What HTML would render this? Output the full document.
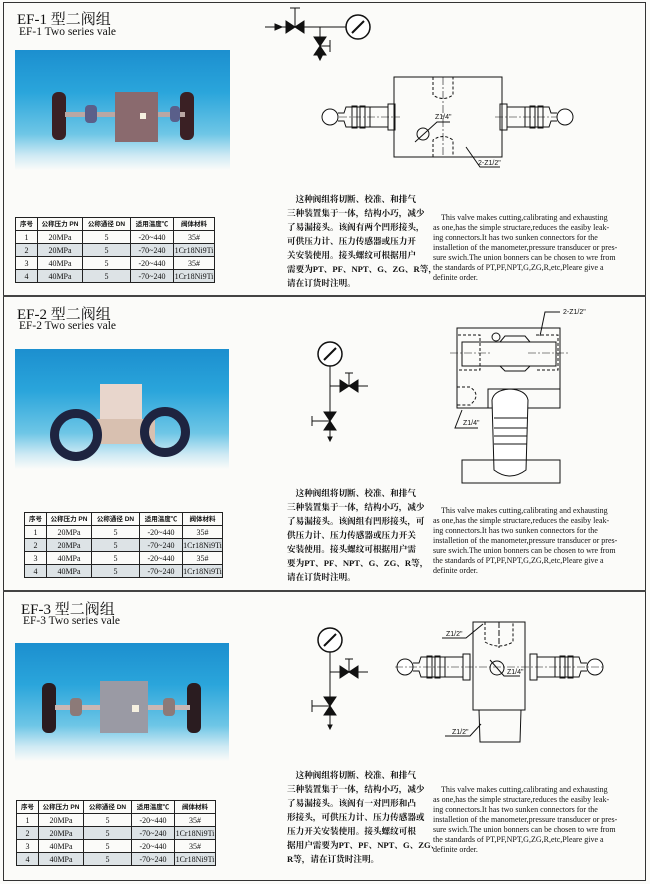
<!DOCTYPE html>
<html><head><meta charset="utf-8">
<style>
*{margin:0;padding:0;box-sizing:border-box}
body{width:650px;height:884px;background:#fbfbf9;position:relative;overflow:hidden;font-family:"Liberation Serif","Noto Serif CJK SC",serif;color:#111}
.a{position:absolute;white-space:nowrap}
.frame{position:absolute;left:3px;top:2px;width:643px;height:879px;border:1.5px solid #333}
.hr{position:absolute;left:3px;width:643px;height:2px;background:#444}
.t1{font-size:15px;font-family:"Liberation Serif","Noto Serif CJK SC",serif}
.t2{font-size:11.5px}
.photo{position:absolute;background:linear-gradient(180deg,#1c8fcf 0%,#2aa5db 35%,#6ec6e6 70%,#cfeaf4 88%,#fbfbf9 100%)}
table{position:absolute;border-collapse:collapse;font-size:8px;font-family:"Liberation Serif","Noto Sans CJK SC",serif}
td{border:1px solid #222;height:13px;text-align:center;padding:0;line-height:11px}
tr.h td{font-size:6.5px;font-weight:bold;font-family:"Liberation Sans","Noto Sans CJK SC",sans-serif}
tr.s td{background:#dde3e6}
.cn{position:absolute;font-family:"Liberation Serif","Noto Serif CJK SC",serif;font-weight:bold;font-size:8.6px;line-height:14px;white-space:nowrap;letter-spacing:0}
.en{position:absolute;font-family:"Liberation Serif",serif;font-size:8px;line-height:10px;width:174px;white-space:nowrap}
svg{position:absolute;left:0;top:0}
</style></head><body>
<div class="frame"></div>
<div class="hr" style="top:295px"></div>
<div class="hr" style="top:590px"></div>

<!-- EF-1 -->
<div class="a t1" style="left:17px;top:8px">EF-1 型二阀组</div>
<div class="a t2" style="left:19px;top:26px">EF-1 Two series vale</div>
<div class="photo" style="left:15px;top:50px;width:215px;height:120px">
  <div class="a" style="left:37px;top:42px;width:14px;height:48px;background:#3a2024;border-radius:6px"></div>
  <div class="a" style="left:165px;top:42px;width:14px;height:48px;background:#3a2024;border-radius:6px"></div>
  <div class="a" style="left:50px;top:62px;width:120px;height:5px;background:#b9a7a4"></div>
  <div class="a" style="left:70px;top:55px;width:12px;height:18px;background:#5a5f8a;border-radius:4px"></div>
  <div class="a" style="left:155px;top:56px;width:10px;height:16px;background:#5a5f8a;border-radius:4px"></div>
  <div class="a" style="left:100px;top:42px;width:43px;height:50px;background:#8a6a6e"></div>
  <div class="a" style="left:125px;top:63px;width:6px;height:6px;background:#f5f0e0"></div>
</div>
<table style="left:15px;top:217px;width:200px">
<tr class="h"><td style="width:22px">序号</td><td style="width:45px">公称压力 PN</td><td style="width:48px">公称通径 DN</td><td style="width:43px">适用温度℃</td><td>阀体材料</td></tr>
<tr><td>1</td><td>20MPa</td><td>5</td><td>-20~440</td><td>35#</td></tr>
<tr class="s"><td>2</td><td>20MPa</td><td>5</td><td>-70~240</td><td>1Cr18Ni9Ti</td></tr>
<tr><td>3</td><td>40MPa</td><td>5</td><td>-20~440</td><td>35#</td></tr>
<tr class="s"><td>4</td><td>40MPa</td><td>5</td><td>-70~240</td><td>1Cr18Ni9Ti</td></tr>
</table>
<div class="cn" style="left:287px;top:192px">　这种阀组将切断、校准、和排气<br>三种装置集于一体，结构小巧，减少<br>了易漏接头。该阀有两个凹形接头，<br>可供压力计、压力传感器或压力开<br>关安装使用。接头螺纹可根据用户<br>需要为PT、PF、NPT、G、ZG、R等，<br>请在订货时注明。</div>
<div class="en" style="left:433px;top:213px">　This valve makes cutting,calibrating and exhausting<br>as one,has the simple structare,reduces the easiby leak-<br>ing connectors.It has two sunken connectors for the<br>installetion of the manometer,pressure transducer or pres-<br>sure swich.The union bonners can be chosen to wre from<br>the standards of PT,PF,NPT,G,ZG,R,etc,Pleare give a<br>definite order.</div>

<!-- EF-2 -->
<div class="a t1" style="left:17px;top:303px">EF-2 型二阀组</div>
<div class="a t2" style="left:19px;top:320px">EF-2 Two series vale</div>
<div class="photo" style="left:15px;top:349px;width:214px;height:120px">
  <div class="a" style="left:85px;top:35px;width:42px;height:42px;background:#e8d6cc"></div>
  <div class="a" style="left:80px;top:70px;width:60px;height:25px;background:#d8c0b0"></div>
  <div class="a" style="left:35px;top:60px;width:52px;height:52px;border:9px solid #1e2440;border-radius:50%"></div>
  <div class="a" style="left:125px;top:58px;width:50px;height:50px;border:9px solid #1e2440;border-radius:50%"></div>
</div>
<table style="left:24px;top:512px;width:199px">
<tr class="h"><td style="width:22px">序号</td><td style="width:45px">公称压力 PN</td><td style="width:48px">公称通径 DN</td><td style="width:43px">适用温度℃</td><td>阀体材料</td></tr>
<tr><td>1</td><td>20MPa</td><td>5</td><td>-20~440</td><td>35#</td></tr>
<tr class="s"><td>2</td><td>20MPa</td><td>5</td><td>-70~240</td><td>1Cr18Ni9Ti</td></tr>
<tr><td>3</td><td>40MPa</td><td>5</td><td>-20~440</td><td>35#</td></tr>
<tr class="s"><td>4</td><td>40MPa</td><td>5</td><td>-70~240</td><td>1Cr18Ni9Ti</td></tr>
</table>
<div class="cn" style="left:287px;top:486px">　这种阀组将切断、校准、和排气<br>三种装置集于一体，结构小巧，减少<br>了易漏接头。该阀组有凹形接头，可<br>供压力计、压力传感器或压力开关<br>安装使用。接头螺纹可根据用户需<br>要为PT、PF、NPT、G、ZG、R等，<br>请在订货时注明。</div>
<div class="en" style="left:433px;top:506px">　This valve makes cutting,calibrating and exhausting<br>as one,has the simple structare,reduces the easiby leak-<br>ing connectors.It has two sunken connectors for the<br>installetion of the manometer,pressure transducer or pres-<br>sure swich.The union bonners can be chosen to wre from<br>the standards of PT,PF,NPT,G,ZG,R,etc,Pleare give a<br>definite order.</div>

<!-- EF-3 -->
<div class="a t1" style="left:21px;top:598px">EF-3 型二阀组</div>
<div class="a t2" style="left:23px;top:615px">EF-3 Two series vale</div>
<div class="photo" style="left:15px;top:643px;width:214px;height:118px">
  <div class="a" style="left:27px;top:40px;width:14px;height:50px;background:#2a1c20;border-radius:6px"></div>
  <div class="a" style="left:172px;top:40px;width:14px;height:50px;background:#2a1c20;border-radius:6px"></div>
  <div class="a" style="left:40px;top:62px;width:135px;height:5px;background:#c9b7b4"></div>
  <div class="a" style="left:55px;top:55px;width:12px;height:18px;background:#8c7a78;border-radius:4px"></div>
  <div class="a" style="left:148px;top:55px;width:12px;height:18px;background:#8c7a78;border-radius:4px"></div>
  <div class="a" style="left:85px;top:38px;width:48px;height:52px;background:#9a9aa4"></div>
  <div class="a" style="left:117px;top:62px;width:7px;height:7px;background:#f5f0e0"></div>
</div>
<table style="left:16px;top:800px;width:200px">
<tr class="h"><td style="width:22px">序号</td><td style="width:45px">公称压力 PN</td><td style="width:48px">公称通径 DN</td><td style="width:43px">适用温度℃</td><td>阀体材料</td></tr>
<tr><td>1</td><td>20MPa</td><td>5</td><td>-20~440</td><td>35#</td></tr>
<tr class="s"><td>2</td><td>20MPa</td><td>5</td><td>-70~240</td><td>1Cr18Ni9Ti</td></tr>
<tr><td>3</td><td>40MPa</td><td>5</td><td>-20~440</td><td>35#</td></tr>
<tr class="s"><td>4</td><td>40MPa</td><td>5</td><td>-70~240</td><td>1Cr18Ni9Ti</td></tr>
</table>
<div class="cn" style="left:287px;top:768px">　这种阀组将切断、校准、和排气<br>三种装置集于一体，结构小巧，减少<br>了易漏接头。该阀有一对凹形和凸<br>形接头，可供压力计、压力传感器或<br>压力开关安装使用。接头螺纹可根<br>据用户需要为PT、PF、NPT、G、ZG、<br>R等，请在订货时注明。</div>
<div class="en" style="left:433px;top:785px">　This valve makes cutting,calibrating and exhausting<br>as one,has the simple structare,reduces the easiby leak-<br>ing connectors.It has two sunken connectors for the<br>installetion of the manometer,pressure transducer or pres-<br>sure swich.The union bonners can be chosen to wre from<br>the standards of PT,PF,NPT,G,ZG,R,etc,Pleare give a<br>definite order.</div>

<svg width="650" height="884" viewBox="0 0 650 884" fill="none" stroke="#111" stroke-width="1">
<defs>
<g id="bv"><path d="M-9,-6 L0,0 L-9,6 Z M9,-6 L0,0 L9,6 Z" fill="#111"/></g>
<g id="vv"><path d="M-6,-9 L0,0 L6,-9 Z M-6,9 L0,0 L6,9 Z" fill="#111"/></g>
<g id="gauge"><circle r="12" fill="#fff" stroke-width="1.5"/><path d="M-6,6 L6,-6" stroke-width="2"/></g>
<g id="handle">
 <circle cx="0" cy="0" r="8" fill="#fff"/>
 <path d="M8,-4 L14,-4 L16,-10 L40,-10 L40,10 L16,10 L14,4 L8,4"/>
 <rect x="22" y="-11" width="5" height="22"/><rect x="30" y="-11" width="5" height="22"/>
 <rect x="40" y="-10" width="18" height="20"/><rect x="58" y="-13" width="7" height="26"/>
</g>
</defs>
<!-- EF-1 symbol -->
<path d="M265,27 L355,27 M290,8 L300,8 M295,8 L295,27 M320,27 L320,60 M330,40 L330,52 M320,46 L330,46"/>
<path d="M282,27 L275,24 L275,30Z" fill="#111"/>
<use href="#bv" x="295" y="27"/>
<use href="#vv" x="320" y="46"/>
<use href="#gauge" x="358" y="27"/>
<path d="M320,60 L318,56 L322,56Z" fill="#111"/>
<!-- EF-1 body -->
<rect x="394" y="77" width="108" height="80"/>
<path d="M433,77 L433,95 Q443,102 453,95 L453,77 M433,157 L433,140 Q443,133 453,140 L453,157" stroke-dasharray="3,2"/>
<path d="M443,77 L443,157 M325,117 L400,117 M495,117 L575,117" stroke-dasharray="8,2,2,2" stroke-width="0.6"/>
<use href="#handle" x="330" y="117"/>
<g transform="translate(565,117) scale(-1,1)"><use href="#handle"/></g>
<circle cx="423" cy="134" r="6"/><path d="M415,142 L437,122 L450,122"/>
<path d="M466,147 L480,167 L500,167"/>
<text x="435" y="119" font-size="7" fill="#111" stroke="none" font-family="Liberation Sans">Z1/4"</text>
<text x="478" y="165" font-size="7" fill="#111" stroke="none" font-family="Liberation Sans">2-Z1/2"</text>

<!-- EF-2 symbol -->
<use href="#gauge" x="330" y="354"/>
<path d="M330,366 L330,441 M330,386 L355,386 M345,373 L353,373 M349,373 L349,386 M355,386 L368,386 M312,416 L312,426 M312,421 L330,421"/>
<use href="#bv" x="349" y="386"/><use href="#vv" x="330" y="421"/>
<path d="M330,441 L328,437 L332,437Z" fill="#111"/>
<!-- EF-2 body -->
<rect x="457" y="328" width="103" height="80"/>
<rect x="462" y="342" width="94" height="24"/>
<path d="M500,342 L505,336 L525,336 L530,342 M500,366 L505,371 L525,371 L530,366"/>
<circle cx="496" cy="337" r="4"/>
<path d="M458,335 L480,335 L480,370 L458,370 M536,335 L558,335 L558,370 L536,370" stroke-dasharray="3,2"/>
<path d="M450,353 L490,353 M528,353 L568,353" stroke-dasharray="8,2,2,2" stroke-width="0.6"/>
<rect x="488" y="389" width="72" height="19"/>
<path d="M457,387 L470,387 Q482,395 470,405 L457,405" stroke-dasharray="3,2"/>
<path d="M492,400 Q494,390 510,389 Q526,390 528,400 L526,470 Q510,482 494,470 Z" fill="#fff"/>
<path d="M494,418 L527,418 M494,428 L527,428 M494,436 L527,436 M494,444 L527,444"/>
<rect x="462" y="460" width="98" height="23"/>
<path d="M560,312 L545,312 L540,336 M462,410 L455,428 L478,428"/>
<text x="563" y="314" font-size="7" fill="#111" stroke="none" font-family="Liberation Sans">2-Z1/2"</text>
<text x="463" y="425" font-size="7" fill="#111" stroke="none" font-family="Liberation Sans">Z1/4"</text>

<!-- EF-3 symbol -->
<use href="#gauge" x="330" y="640"/>
<path d="M330,652 L330,727 M330,672 L355,672 M345,659 L353,659 M349,659 L349,672 M355,672 L368,672 M312,700 L312,712 M312,706 L330,706"/>
<use href="#bv" x="349" y="672"/><use href="#vv" x="330" y="706"/>
<path d="M330,729 L328,725 L332,725Z" fill="#111"/>
<!-- EF-3 body -->
<rect x="473" y="622" width="52" height="88"/>
<path d="M485,622 L485,642 Q499,650 513,642 L513,622" stroke-dasharray="3,2"/>
<path d="M499,622 L499,648" stroke-dasharray="6,2"/>
<path d="M479,710 L480,742 L520,742 L521,710"/>
<g transform="translate(405,667)"><use href="#handle"/></g>
<g transform="translate(595,667) scale(-1,1)"><use href="#handle"/></g>
<path d="M395,667 L605,667" stroke-dasharray="8,2,2,2" stroke-width="0.6"/>
<circle cx="497" cy="668" r="7"/><path d="M490,660 L504,676 L520,676"/>
<path d="M442,638 L466,638 L483,624 M445,736 L470,736 L481,724"/>
<text x="446" y="636" font-size="7" fill="#111" stroke="none" font-family="Liberation Sans">Z1/2"</text>
<text x="507" y="674" font-size="7" fill="#111" stroke="none" font-family="Liberation Sans">Z1/4"</text>
<text x="452" y="734" font-size="7" fill="#111" stroke="none" font-family="Liberation Sans">Z1/2"</text>
</svg>
</body></html>
